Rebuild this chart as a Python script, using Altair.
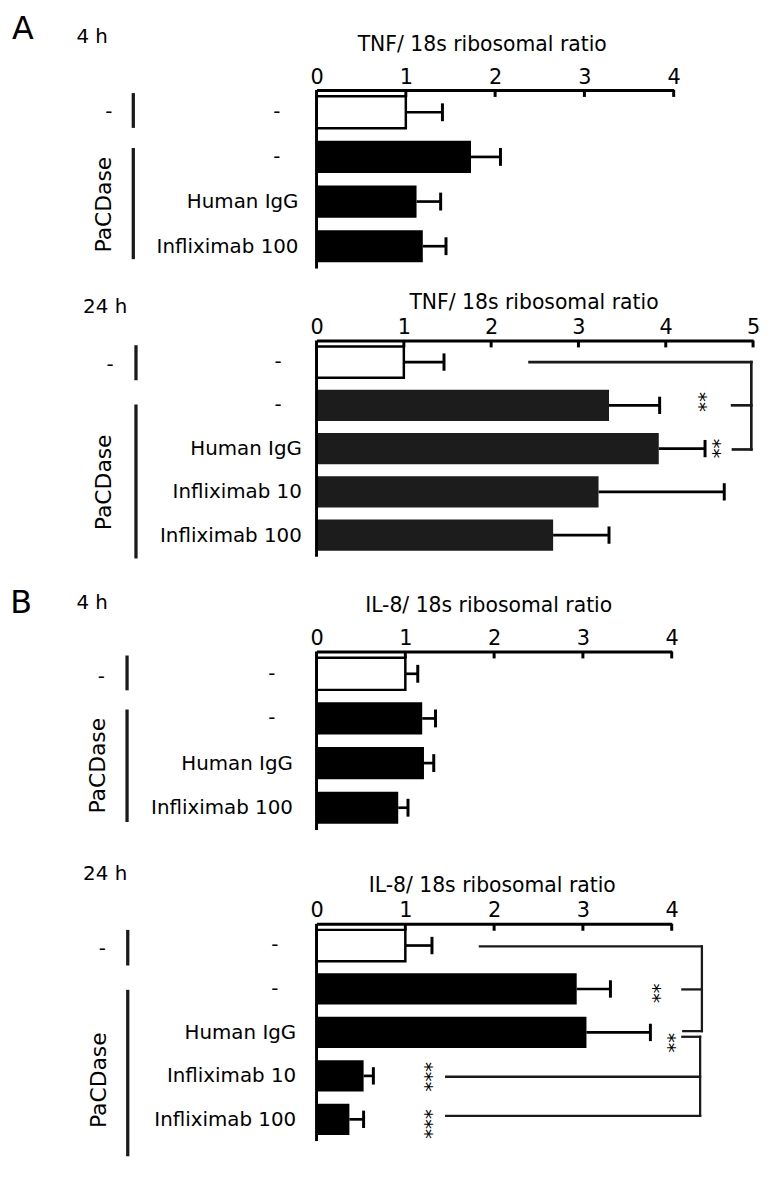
import json
import altair as alt
import pandas as pd

FONT = "DejaVu Sans"

# ---------------- data ----------------
tnf4_labels = ["-", "-", "Human IgG", "Infliximab 100"]
tnf4_values = [1.00, 1.73, 1.12, 1.19]
tnf4_errors = [0.41, 0.33, 0.27, 0.26]

tnf24_labels = ["-", "-", "Human IgG", "Infliximab 10", "Infliximab 100"]
tnf24_values = [1.00, 3.35, 3.92, 3.23, 2.71]
tnf24_errors = [0.46, 0.58, 0.53, 1.44, 0.64]

il8_4_labels = ["-", "-", "Human IgG", "Infliximab 100"]
il8_4_values = [1.00, 1.19, 1.21, 0.92]
il8_4_errors = [0.14, 0.15, 0.11, 0.11]

il8_24_labels = ["-", "-", "Human IgG", "Infliximab 10", "Infliximab 100"]
il8_24_values = [1.00, 2.93, 3.04, 0.53, 0.37]
il8_24_errors = [0.30, 0.38, 0.72, 0.11, 0.16]

ticks_0_4 = [0, 1, 2, 3, 4]
ticks_0_5 = [0, 1, 2, 3, 4, 5]

# significance brackets, in data units (x = ratio, y = row index)
tnf24_br_x1 = [2.44, 4.98, 4.76, 4.77]
tnf24_br_x2 = [4.98, 4.98, 4.98, 4.98]
tnf24_br_y1 = [0.0, 0.0, 1.0, 2.02]
tnf24_br_y2 = [0.0, 2.02, 1.0, 2.02]
tnf24_star_x = [4.45, 4.61]
tnf24_star_y = [0.92, 2.0]
tnf24_star_text = ["**", "**"]

il8_24_br_x1 = [1.84, 4.34, 4.12, 4.13, 4.12, 4.32, 1.46, 1.46]
il8_24_br_x2 = [4.34, 4.34, 4.34, 4.34, 4.32, 4.32, 4.32, 4.32]
il8_24_br_y1 = [0.02, 0.02, 1.01, 1.97, 2.10, 2.10, 3.02, 3.92]
il8_24_br_y2 = [0.02, 1.97, 1.01, 1.97, 2.10, 3.92, 3.02, 3.92]
il8_24_star_x = [3.86, 4.02, 1.29, 1.29]
il8_24_star_y = [1.10, 2.24, 3.02, 4.11]
il8_24_star_text = ["**", "**", "***", "***"]

# group brackets on the left (row spans): "-" group and "PaCDase" group
tnf4_groups = [(-0.43, 0.35), (0.80, 3.29)]
tnf24_groups = [(-0.39, 0.42), (0.98, 4.54)]
il8_4_groups = [(-0.41, 0.37), (0.80, 3.32)]
il8_24_groups = [(-0.36, 0.46), (1.02, 4.85)]


def text_layer(text, x, y, size, align="left", baseline="alphabetic", angle=0):
    return alt.Chart(pd.DataFrame({"s": [text]})).mark_text(
        font=FONT, fontSize=size, align=align, baseline=baseline,
        color="black", angle=angle
    ).encode(x=alt.value(x), y=alt.value(y), text="s:N")


def make_panel(labels, values, errors, xmax, ticks, width, step, height,
               bar_color, title, title_x, title_y, label_pad, hyphen_x,
               groups, grp_x, dash_x, dash_y, pac_x, pac_y, corner,
               br=None, stars=None, br_width=2.7):
    n = len(labels)
    ymax = -0.5 + height / step
    xs = alt.Scale(domain=[0, xmax], nice=False, zero=False)
    ys = alt.Scale(domain=[-0.5, ymax], reverse=True, nice=False, zero=False)

    disp = [("" if s == "-" else s) for s in labels]
    label_expr = json.dumps(disp) + "[datum.value]"

    xaxis = alt.Axis(
        orient="top", title=title, titleX=title_x, titleY=title_y,
        titleAlign="center", titleBaseline="alphabetic", titleFont=FONT,
        titleFontSize=20.5, titleFontWeight="normal", titleColor="black",
        labelFont=FONT, labelFontSize=21, labelColor="black",
        labelBaseline="alphabetic", labelPadding=7, labelFlush=False,
        labelOverlap=False, ticks=False, tickSize=0, domain=True,
        domainColor="black", domainWidth=3, grid=False, values=ticks,
        format="d",
    )
    yaxis = alt.Axis(
        orient="left", title=None, values=list(range(n)), labelExpr=label_expr,
        domain=False, ticks=False, tickSize=0, grid=False, labelFont=FONT,
        labelFontSize=20, labelColor="black", labelPadding=label_pad,
        labelOverlap=False, labelBaseline="middle", labelAlign="right",
    )

    def X(field):
        return alt.X(field, scale=xs, axis=xaxis)

    def Y(field=None, datum=None):
        if datum is not None:
            return alt.Y(datum=datum, scale=ys, axis=yaxis)
        return alt.Y(field, scale=ys, axis=yaxis)

    df = pd.DataFrame({"row": list(range(n)), "label": labels,
                       "value": values, "err": errors})
    base = alt.Chart(df).transform_calculate(
        x0="0",
        lo="datum.row - 0.36",
        hi="datum.row + 0.36",
        top="datum.value + datum.err",
        clo="datum.row - 0.2",
        chi="datum.row + 0.2",
    )

    layers = []
    layers.append(
        base.transform_filter("datum.row > 0").mark_bar(color=bar_color).encode(
            x=X("x0:Q"), x2="value:Q", y=Y("lo:Q"), y2="hi:Q")
    )
    layers.append(
        base.transform_filter("datum.row == 0").mark_bar(
            fill="white", stroke="black", strokeWidth=2.5).encode(
            x=X("x0:Q"), x2="value:Q", y=Y("lo:Q"), y2="hi:Q")
    )
    layers.append(
        base.mark_rule(color="black", strokeWidth=2.7).encode(
            x=X("value:Q"), x2="top:Q", y=Y("row:Q"))
    )
    layers.append(
        base.mark_rule(color="black", strokeWidth=3).encode(
            x=X("top:Q"), y=Y("clo:Q"), y2="chi:Q")
    )
    # "-" category labels (sit left of the right-aligned axis labels)
    layers.append(
        base.transform_filter("datum.label == '-'").mark_text(
            font=FONT, fontSize=20, align="center", baseline="middle", color="black"
        ).encode(x=alt.value(hyphen_x), y=Y("row:Q"), text="label:N")
    )
    # inward tick marks on the top axis
    tdf = pd.DataFrame({"t": [t for t in ticks if t > 0]})
    layers.append(
        alt.Chart(tdf).mark_rule(color="black", strokeWidth=3).encode(
            x=X("t:Q"), y=alt.value(0), y2=alt.value(7))
    )
    # vertical axis line
    vdf = pd.DataFrame({"x": [0], "y1": [-0.5], "y2": [n - 0.5]})
    layers.append(
        alt.Chart(vdf).mark_rule(color="black", strokeWidth=3).encode(
            x=X("x:Q"), y=Y("y1:Q"), y2="y2:Q")
    )
    # left group lines
    gdf = pd.DataFrame({"y1": [g[0] for g in groups], "y2": [g[1] for g in groups]})
    layers.append(
        alt.Chart(gdf).mark_rule(color="#1a1a1a", strokeWidth=3.3).encode(
            x=alt.value(grp_x), y=Y("y1:Q"), y2="y2:Q")
    )
    layers.append(
        alt.Chart(pd.DataFrame({"s": ["-"]})).mark_text(
            font=FONT, fontSize=20, align="center", baseline="middle", color="black"
        ).encode(x=alt.value(dash_x), y=Y(datum=dash_y), text="s:N")
    )
    layers.append(
        alt.Chart(pd.DataFrame({"s": ["PaCDase"]})).mark_text(
            font=FONT, fontSize=22, align="center", baseline="middle",
            color="black", angle=270
        ).encode(x=alt.value(pac_x), y=Y(datum=pac_y), text="s:N")
    )
    if br is not None:
        bdf = pd.DataFrame({"x1": br[0], "x2": br[1], "y1": br[2], "y2": br[3]})
        layers.append(
            alt.Chart(bdf).mark_rule(color="#1a1a1a", strokeWidth=br_width,
                                     strokeCap="square").encode(
                x=X("x1:Q"), x2="x2:Q", y=Y("y1:Q"), y2="y2:Q")
        )
    if stars is not None:
        sdf = pd.DataFrame({"x": stars[0], "y": stars[1], "s": stars[2]})
        layers.append(
            alt.Chart(sdf).mark_text(
                font=FONT, fontSize=20, angle=90, align="center",
                baseline="middle", dy=6, color="black"
            ).encode(x=X("x:Q"), y=Y("y:Q"), text="s:N")
        )
    for c in corner:
        layers.append(text_layer(*c))

    return alt.layer(*layers).properties(width=width, height=height)


p1 = make_panel(
    tnf4_labels, tnf4_values, tnf4_errors, 4, ticks_0_4, 360, 45, 180, "black",
    "TNF/ 18s ribosomal ratio", 166.5, -39.5, 18.7, -40,
    tnf4_groups, -184.7, -209.3, 0.0, -214, 2.07,
    [("A", -307, -76.5, 32, "left", "top"), ("4 h", -242, -47.8, 20)],
)
p2 = make_panel(
    tnf24_labels, tnf24_values, tnf24_errors, 5, ticks_0_5, 440, 43.6, 240.5, "#1c1c1c",
    "TNF/ 18s ribosomal ratio", 218.7, -32, 15.3, -38.7,
    tnf24_groups, -182, -208, 0.07, -214.5, 2.78,
    [("24 h", -235.3, -27.7, 20)],
    br=(tnf24_br_x1, tnf24_br_x2, tnf24_br_y1, tnf24_br_y2),
    stars=(tnf24_star_x, tnf24_star_y, tnf24_star_text), br_width=2.7,
)
p3 = make_panel(
    il8_4_labels, il8_4_values, il8_4_errors, 4, ticks_0_4, 358, 45, 201.5, "black",
    "IL-8/ 18s ribosomal ratio", 173, -40, 24.3, -45,
    il8_4_groups, -191, -217, 0.08, -220, 2.06,
    [("B", -308.7, -63.7, 32, "left", "top"), ("4 h", -242, -43, 20)],
)
p4 = make_panel(
    il8_24_labels, il8_24_values, il8_24_errors, 4, ticks_0_4, 358, 43.8, 219, "black",
    "IL-8/ 18s ribosomal ratio", 176.6, -32.3, 21, -42,
    il8_24_groups, -190.3, -216, 0.09, -219, 3.1,
    [("24 h", -235.3, -44, 20)],
    br=(il8_24_br_x1, il8_24_br_x2, il8_24_br_y1, il8_24_br_y2),
    stars=(il8_24_star_x, il8_24_star_y, il8_24_star_text), br_width=2.3,
)

chart = alt.vconcat(p1, p2, p3, p4, spacing=72.5, bounds="flush").properties(
    padding={"left": 2, "top": 0, "right": 0, "bottom": 0},
    background="white",
).configure_view(stroke=None)

chart.save("out.html", embed_options={"renderer": "svg", "actions": False})
